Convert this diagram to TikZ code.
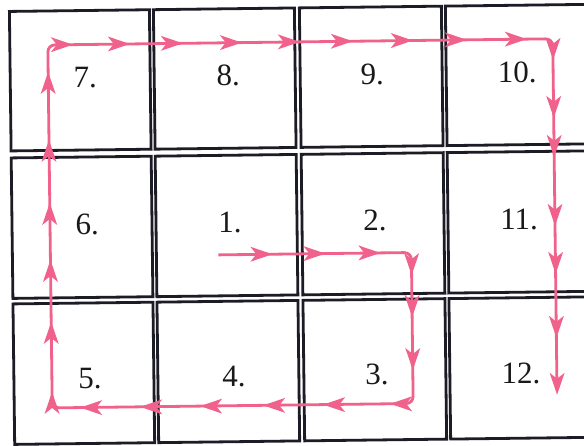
\documentclass[tikz,border=0pt]{standalone}
\usepackage{fontspec}
\setmainfont{Liberation Serif}
\definecolor{pk}{RGB}{240,98,140}
\definecolor{ink}{RGB}{28,28,38}
\begin{document}
\begin{tikzpicture}[x=1pt,y=-1pt,
  cell/.style={draw=ink,line width=2.8pt},
  lbl/.style={font=\fontsize{31}{36}\selectfont, text=black!90, anchor=base, inner sep=0pt},
  trail/.style={draw=pk,line width=2.8pt,rounded corners=7pt},
  ah/.pic={\fill[pk] (0,0) -- (-22,7.5) -- (-16,0) -- (-22,-7.5) -- cycle;}]
\useasboundingbox (0,0) rectangle (584,446);
\clip (0,0) rectangle (584,446);
\fill[white] (0,0) rectangle (584,446);
\begin{scope}[rotate around={0.7:(292,223)}]
  % cells
  \foreach \xa/\xb in {12/152,156/297,302/444,448/590}
    \foreach \ya/\yb in {8/147.5,154.5/295,300.5/441}
      \draw[cell] (\xa,\ya) rectangle (\xb,\yb);
  % labels
  \node[lbl] (l7)  at (87,85) {7.};
  \node[lbl] (l8)  at (230,85) {8.};
  \node[lbl] (l9)  at (374,85) {9.};
  \node[lbl] (l10) at (519,85) {10.};
  \node[lbl] (l6)  at (87,232) {6.};
  \node[lbl] (l1)  at (230,232) {1.};
  \node[lbl] (l2)  at (375,232) {2.};
  \node[lbl] (l11) at (519,232) {11.};
  \node[lbl] (l5)  at (88,386) {5.};
  \node[lbl] (l4)  at (232,386) {4.};
  \node[lbl] (l3)  at (375,386) {3.};
  \node[lbl] (l12) at (519,386) {12.};
  % trail
  \coordinate (s) at (218,254);
  \coordinate (p1) at (411,405);
  \coordinate (p2) at (50,42);
  \coordinate (e) at (555,392);
  \draw[trail] (s) -| (p1) -| (p2) -| (e);
  \foreach \x in {272,325,380} \pic at (\x,254) {ah};
  \foreach \y in {276.5,318.5,371.5} \pic[rotate=-90] at (411,\y) {ah};
  \foreach \x in {388,321,261,198,138,78} \pic[rotate=180] at (\x,405) {ah};
  \foreach \y in {389,319,257,200,137,69} \pic[rotate=90] at (50,\y) {ah};
  \foreach \x in {75,132,185,244,302,355,415,469,529} \pic at (\x,42) {ah};
  \foreach \y in {63,121,160,229,277,341,398} \pic[rotate=-90] at (555,\y) {ah};
\end{scope}
\end{tikzpicture}
\end{document}
